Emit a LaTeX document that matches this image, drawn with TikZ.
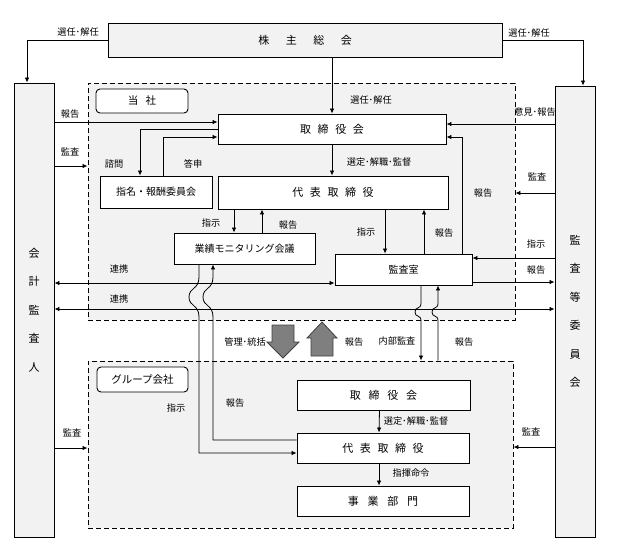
\documentclass[tikz,border=0pt]{standalone}
\usepackage{fontspec}
\setmainfont{Noto Sans CJK JP}
\usepackage{tikz}
\usetikzlibrary{arrows.meta}
\usetikzlibrary{calc}
\newcommand{\gap}[1][0.6em]{\hspace{#1}}

\begin{document}
\begin{tikzpicture}
	[x=1pt,y=-1pt,
	%Styles
	box/.style={draw,line width=.9pt,fill=white,inner sep=0pt,font=\fontsize{11}{13}\selectfont},
	smallbox/.style={box,font=\fontsize{10}{12}\selectfont},
	region/.style={draw,line width=.9pt,dash pattern=on 5pt off 3pt,fill=panel},
	tag/.style={draw,line width=.9pt,rounded corners=4pt,fill=white,inner sep=0pt,font=\fontsize{10.5}{12}\selectfont},
	side/.style={draw,line width=.9pt,fill=panel,inner sep=0pt,align=center,font=\fontsize{11}{28.5}\selectfont},
	lbl/.style={inner sep=0pt,font=\fontsize{9.2}{10}\selectfont},
	arr/.style={line width=.8pt,-{Latex[length=5pt,width=4.5pt]}},
	twoway/.style={line width=.8pt,{Latex[length=5pt,width=4.5pt]}-{Latex[length=5pt,width=4.5pt]}},
	bigarrow/.style={draw=arrowedge,line width=.8pt,fill=arrowfill}
	]
	
	%Colors
	\definecolor{panel}{HTML}{F2F2F2}
	\definecolor{arrowfill}{HTML}{7F7F7F}
	\definecolor{arrowedge}{HTML}{404040}
	
	\useasboundingbox (0,0) rectangle (617,544);
	
	%Dashed company areas
	\node[region,minimum width=427pt,minimum height=237pt] (tousha) at (301.5,201.5) {};
	\node[region,minimum width=425pt,minimum height=167pt] (group) at (300.5,444.5) {};
	\node[tag,minimum width=92pt,minimum height=24pt] (tousha-tag) at (142,101) {当\gap[0.7em]社};
	\node[tag,minimum width=91pt,minimum height=25pt] (group-tag) at (142.5,379.5) {グループ会社};
	
	%The boxes
	\node[box,fill=panel,minimum width=394pt,minimum height=34pt] (agm) at (305,40) {株\gap[1.5em]主\gap[1.5em]総\gap[1.5em]会};
	\node[side,minimum width=40pt,minimum height=454pt] (auditor) at (34,310) {会\\計\\監\\査\\人};
	\node[side,minimum width=40pt,minimum height=451pt] (acomm) at (575,311.5) {監\\査\\等\\委\\員\\会};
	\node[box,minimum width=228pt,minimum height=30pt] (board) at (332,129) {取\gap 締\gap 役\gap 会};
	\node[smallbox,minimum width=112pt,minimum height=32pt] (nomcomm) at (156,192) {指名・報酬委員会};
	\node[box,minimum width=230pt,minimum height=33pt] (president) at (333,192.5) {代\gap 表\gap 取\gap 締\gap 役};
	\node[smallbox,minimum width=141pt,minimum height=31pt] (monitor) at (244.5,248.5) {業績モニタリング会議};
	\node[smallbox,minimum width=137pt,minimum height=31pt] (auditoffice) at (403.5,269.5) {監査室};
	\node[box,minimum width=173pt,minimum height=30pt] (gboard) at (383.5,395) {取\gap[0.7em]締\gap[0.7em]役\gap[0.7em]会};
	\node[box,minimum width=172pt,minimum height=30pt] (gpresident) at (383,448) {代\gap 表\gap 取\gap 締\gap 役};
	\node[box,minimum width=172pt,minimum height=30pt] (division) at (383,501) {事\gap[0.8em]業\gap[0.8em]部\gap[0.8em]門};
	
	%Shareholders' meeting
	\draw[arr] (agm.west) -| ([xshift=-7pt]auditor.north);
	\draw[arr] (agm.east) -| ([xshift=8pt]acomm.north);
	\draw[arr] (board.north |- agm.south) -- (board.north);
	
	%Parent company
	\draw[arr] (auditor.east |- 0,122) -- (board.west |- 0,122);
	\draw[arr] (auditor.east |- 0,166) -- (tousha.west |- 0,166);
	\draw[arr] (board.west) -| ([xshift=-16pt]nomcomm.north);
	\draw[arr] ([xshift=7pt]nomcomm.north) |- ([yshift=-8pt]board.west);
	\draw[arr] (board.south) -- (board.south |- president.north);
	\draw[arr] (acomm.west |- 0,124) -- (board.east |- 0,124);
	\draw[arr] (auditoffice.north -| 462,0) |- ([yshift=-8pt]board.east);
	\draw[arr] (acomm.west |- 0,193) -- (tousha.east |- 0,193);
	\draw[arr] (acomm.west |- 0,258) -- (auditoffice.east |- 0,258);
	\draw[arr] (auditoffice.east |- 0,282) -- (acomm.west |- 0,282);
	\draw[arr] (president.south -| 234,0) -- (monitor.north -| 234,0);
	\draw[arr] (monitor.north -| 262,0) -- (president.south -| 262,0);
	\draw[arr] (president.south -| 385,0) -- (auditoffice.north -| 385,0);
	\draw[arr] (auditoffice.north -| 424,0) -- (president.south -| 424,0);
	\draw[twoway] (auditor.east |- 0,283) -- (auditoffice.west |- 0,283);
	\draw[twoway] (auditor.east |- 0,309) -- (acomm.west |- 0,309);
	
	%Lines down to the group (with break marks)
	\draw[arr] (monitor.south -| 199,0) -- (199,277) .. controls (199,290) and (189,287) .. (189,297) .. controls (189,307) and (199,304) .. (199,317) |- ([yshift=-5pt]gpresident.west);
	\draw[arr] ([yshift=8pt]gpresident.west) -| (213,317) .. controls (213,304) and (203,307) .. (203,297) .. controls (203,287) and (213,290) .. (213,277) -- (monitor.south -| 213,0);
	\draw[arr] (auditoffice.south -| 421,0) -- (421,303) .. controls (421,310) and (415,306) .. (415,312) .. controls (415,318) and (421,314) .. (421,321) -- (group.north -| 421,0);
	\draw[arr] (group.north -| 438,0) -- (438,321) .. controls (438,314) and (432,318) .. (432,312) .. controls (432,306) and (438,310) .. (438,303) -- (auditoffice.south -| 438,0);
	
	%Big arrows
	\draw[bigarrow] (272,325) -- (294,325) -- (294,342) -- (299,342) -- (283,358) -- (267,342) -- (272,342) -- cycle;
	\draw[bigarrow] (311,356) -- (333,356) -- (333,338) -- (337,338) -- (322,322) -- (307,338) -- (311,338) -- cycle;
	
	%Group company
	\draw[arr] ([xshift=-4pt]gboard.south) -- ([xshift=-4pt]gpresident.north);
	\draw[arr] ([xshift=-4pt]gpresident.south) -- ([xshift=-4pt]division.north);
	\draw[arr] (auditor.east |- 0,448) -- (group.west |- 0,448);
	\draw[arr] (acomm.west |- 0,447) -- (group.east |- 0,447);
	
	%Labels
	\node[lbl] (l-elect1) at (78,32) {選任･解任};
	\node[lbl] (l-elect2) at (529,33) {選任･解任};
	\node[lbl] (l-elect3) at (371,100) {選任･解任};
	\node[lbl] (l-report1) at (70,114) {報告};
	\node[lbl] (l-audit1) at (70,152) {監査};
	\node[lbl] (l-consult) at (114,164) {諮問};
	\node[lbl] (l-answer) at (193,164) {答申};
	\node[lbl] (l-appoint1) at (379,162) {選定･解職･監督};
	\node[lbl] (l-opinion) at (535,112) {意見･報告};
	\node[lbl] (l-audit2) at (537,177) {監査};
	\node[lbl] (l-report2) at (483,193) {報告};
	\node[lbl] (l-order1) at (211,223) {指示};
	\node[lbl] (l-report3) at (288,225) {報告};
	\node[lbl] (l-order2) at (366,232) {指示};
	\node[lbl] (l-report4) at (444,233) {報告};
	\node[lbl] (l-order3) at (536,244) {指示};
	\node[lbl] (l-report5) at (536,270) {報告};
	\node[lbl] (l-link1) at (119,269) {連携};
	\node[lbl] (l-link2) at (119,299) {連携};
	\node[lbl] (l-manage) at (245,342) {管理･統括};
	\node[lbl] (l-report6) at (354,342) {報告};
	\node[lbl] (l-internal) at (397,341) {内部監査};
	\node[lbl] (l-report7) at (464,342) {報告};
	\node[lbl] (l-order4) at (176,408) {指示};
	\node[lbl] (l-report8) at (235,403) {報告};
	\node[lbl] (l-audit3) at (72,433) {監査};
	\node[lbl] (l-appoint2) at (416,421) {選定･解職･監督};
	\node[lbl] (l-command) at (411,473) {指揮命令};
	\node[lbl] (l-audit4) at (531,432) {監査};
\end{tikzpicture}
\end{document}
